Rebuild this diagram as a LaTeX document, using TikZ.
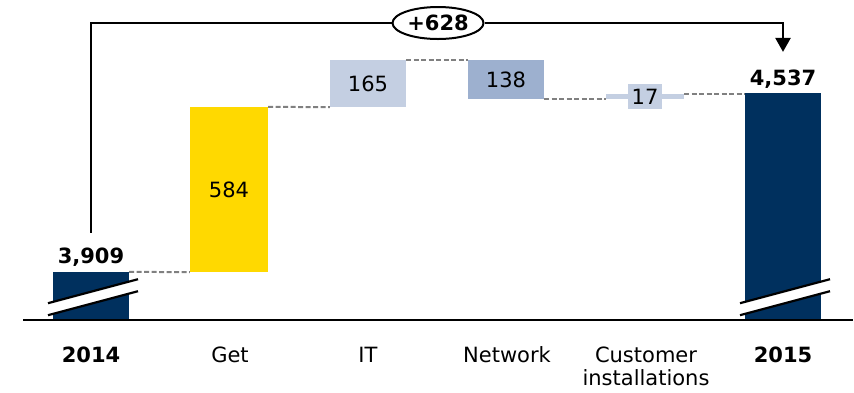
\documentclass[tikz,border=0pt]{standalone}
\usepackage{fontspec}
\setmainfont{DejaVu Sans}
\usetikzlibrary{positioning,shapes.geometric,arrows.meta}

\definecolor{navy}{HTML}{00305E}
\definecolor{gold}{HTML}{FFD900}
\definecolor{pale}{HTML}{C4CFE2}
\definecolor{steel}{HTML}{9DB0CF}

\tikzset{
  bar/.style={rectangle,inner sep=0pt,minimum width=76pt},
  txt/.style={font=\fontsize{21}{23}\selectfont},
  val/.style={font=\fontsize{21}{23}\selectfont\bfseries,anchor=base},
  cat/.style={txt,anchor=base,align=center},
  link/.style={gray,line width=2pt,dash pattern=on 5pt off 2.5pt},
  % white gap with two slanted strokes, cut into a bar
  brk/.pic={
    \fill[white] (-43,-17) -- (47,-41) -- (47,-29) -- (-43,-5) -- cycle;
    \draw[line width=2.2pt] (-43,-17) -- (47,-41) (-43,-5) -- (47,-29);
  }
}

\begin{document}
\begin{tikzpicture}[x=1pt,y=-1pt]
\useasboundingbox (0,0) rectangle (854,392);

% bars
\node (b14) [bar,fill=navy,minimum height=48pt] at (91,296) {};
\node (get) [bar,fill=gold,minimum width=78pt,minimum height=165pt,txt] at (229,189.5) {584};
\node (it) [bar,fill=pale,minimum height=47pt,txt] at (368,83.5) {165};
\node (net) [bar,fill=steel,minimum height=39pt,txt] at (506,79.5) {138};
\node (ci) [bar,fill=pale,minimum width=78pt,minimum height=5pt] at (645,96.5) {};
\node (v17) [fill=pale,minimum width=34pt,minimum height=25pt,inner sep=0pt,txt] at (ci) {17};
\node (b15) [bar,fill=navy,minimum height=227pt] at (783,206.5) {};

\pic at (b14.south) {brk};
\pic at (b15.south) {brk};

\draw[line width=2pt] (23,320) -- (853,320);

% totals
\node (v14) [val] at (91,263) {3,909};
\node (v15) [val] at (783,85) {4,537};

% categories
\node (c14) [cat,font=\fontsize{21}{23}\selectfont\bfseries] at (91,362) {2014};
\node (cget) [cat] at (230,362) {Get};
\node (cit) [cat] at (368,362) {IT};
\node (cnet) [cat] at (507,362) {Network};
\node (cci) [cat] at (646,385) {Customer\\installations};
\node (c15) [cat,font=\fontsize{21}{23}\selectfont\bfseries] at (783,362) {2015};

% steps between bars
\draw[link] (b14.north east) -- (get.south west);
\draw[link] (get.north east) -- (it.south west);
\draw[link] (it.north east) -- (net.north west);
\draw[link] (net.south east) -- (ci.south west);
\draw[link] (ci.north east) -- (ci.north east -| b15.west);

% overall change
\node (d) [ellipse,draw,line width=2pt,fill=white,minimum width=91pt,minimum height=32pt,inner sep=0pt,font=\fontsize{21}{23}\selectfont\bfseries] at (438,23) {+628};
\draw[line width=2.5pt,shorten <=11pt] (v14.north) |- (d.west);
\draw[line width=2.5pt,-{Triangle[width=15pt,length=14pt]},shorten >=14pt] (d.east) -| (v15.north);

\end{tikzpicture}
\end{document}
